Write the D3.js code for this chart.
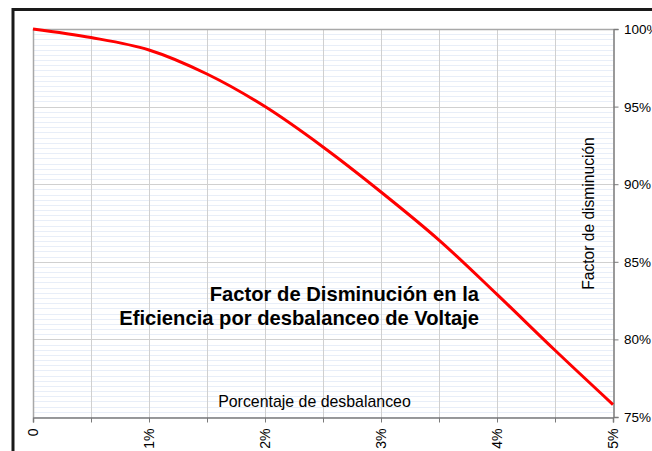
<!DOCTYPE html>
<html><head><meta charset="utf-8">
<script src="https://cdn.jsdelivr.net/npm/d3@7"></script>
<style>body{margin:0;background:#fff}svg{display:block;font-family:"Liberation Sans",Arial,sans-serif}</style>
</head><body><svg id="c" width="652" height="451"></svg>
<script>
const unbalance = [0, 0.5, 1, 1.5, 2, 2.5, 3, 3.5, 4, 4.5, 5];
const factor = [100, 99.45, 98.65, 97.1, 95.0, 92.4, 89.5, 86.4, 82.9, 79.3, 75.8];
const xTicks = [0, 1, 2, 3, 4, 5];
const xTickLabels = ["0", "1%", "2%", "3%", "4%", "5%"];
const yTicks = [75, 80, 85, 90, 95, 100];
const yTickLabels = ["75%", "80%", "85%", "90%", "95%", "100%"];
const titleLines = ["Factor de Disminución en la", "Eficiencia por desbalanceo de Voltaje"];
const xTitle = "Porcentaje de desbalanceo";
const yTitle = "Factor de disminución";

const svg = d3.select("#c");
const L = 33, R = 613, T = 29, B = 417;
const x = d3.scaleLinear().domain([0, 5]).range([L, R]);
const y = d3.scaleLinear().domain([75, 100]).range([B, T]);

// outer frame
svg.append("path").attr("d", `M13,451 V9.5 H652`).attr("fill", "none").attr("stroke", "#1a1a1a").attr("stroke-width", 3);

// minor horizontal background lines
const minor = d3.range(75, 100, 1/3);
svg.append("g").selectAll("line").data(minor).join("line")
  .attr("x1", L).attr("x2", R).attr("y1", d => Math.round(y(d)) + 0.5).attr("y2", d => Math.round(y(d)) + 0.5)
  .attr("stroke", "#e8eef8").attr("stroke-width", 1);

// vertical gridlines every 0.5%
svg.append("g").selectAll("line").data(d3.range(0.5, 5, 0.5)).join("line")
  .attr("x1", d => Math.round(x(d)) + 0.5).attr("x2", d => Math.round(x(d)) + 0.5).attr("y1", T).attr("y2", B)
  .attr("stroke", "#d0d0d0");
// horizontal major gridlines
svg.append("g").selectAll("line").data(yTicks.slice(1, -1)).join("line")
  .attr("x1", L).attr("x2", R).attr("y1", d => Math.round(y(d)) + 0.5).attr("y2", d => Math.round(y(d)) + 0.5)
  .attr("stroke", "#d0d0d0");

// plot border left/top
svg.append("path").attr("d", `M${L+0.5},${B} V${T+0.5} H${R}`).attr("fill", "none").attr("stroke", "#a8a8a8").attr("stroke-width", 1.5);

// bottom axis
const xAxis = svg.append("g").attr("transform", `translate(0,${B + 0.5})`)
  .call(d3.axisBottom(x).tickValues(d3.range(0, 5.01, 0.5)).tickSize(5).tickFormat(""));
xAxis.select(".domain").attr("stroke", "#7a7a7a").attr("stroke-width", 1.5);
xAxis.selectAll(".tick line").attr("stroke", "#7a7a7a");

svg.append("g").selectAll("text").data(xTicks).join("text")
  .attr("transform", d => `translate(${x(d) + 5},428.5) rotate(-90)`)
  .attr("text-anchor", "end").attr("font-size", 14).attr("fill", "#000")
  .text((d, i) => xTickLabels[i]);

// right axis
const yAxis = svg.append("g").attr("transform", `translate(${R + 0.5},0)`)
  .call(d3.axisRight(y).tickValues(yTicks).tickSize(5).tickFormat(""));
yAxis.select(".domain").attr("stroke", "#7a7a7a").attr("stroke-width", 1.5);
yAxis.selectAll(".tick line").attr("stroke", "#7a7a7a");

svg.append("g").selectAll("text").data(yTicks).join("text")
  .attr("x", 624).attr("y", d => y(d) + 5)
  .attr("font-size", 13.5).attr("fill", "#000")
  .text((d, i) => yTickLabels[i]);

// curve
const line = d3.line().x((d, i) => x(unbalance[i])).y(d => y(d)).curve(d3.curveCatmullRom);
svg.append("path").datum(factor).attr("d", line)
  .attr("fill", "none").attr("stroke", "#ff0000").attr("stroke-width", 3);

// titles
svg.append("text").attr("x", 314.5).attr("y", 407).attr("text-anchor", "middle")
  .attr("font-size", 15.9).attr("fill", "#000").text(xTitle);
svg.append("text").attr("transform", "translate(594,213.5) rotate(-90)").attr("text-anchor", "middle")
  .attr("font-size", 15.6).attr("fill", "#000").text(yTitle);
svg.append("g").selectAll("text").data(titleLines).join("text")
  .attr("x", 479).attr("y", (d, i) => 301 + i * 24).attr("text-anchor", "end")
  .attr("font-size", 20.2).attr("font-weight", "bold").attr("fill", "#000").text(d => d);
</script></body></html>
